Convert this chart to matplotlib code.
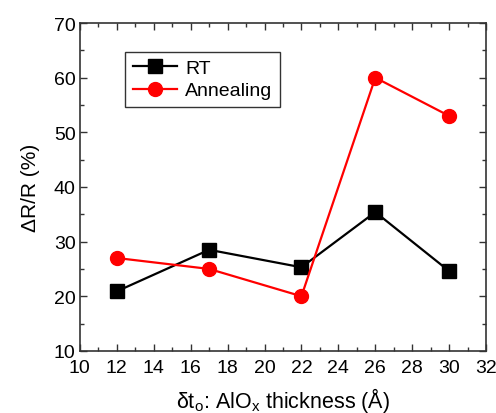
import matplotlib
matplotlib.use('Agg')
import matplotlib.pyplot as plt
from matplotlib.ticker import MultipleLocator

plt.rcParams['font.family'] = ['Liberation Sans', 'DejaVu Sans']
plt.rcParams['mathtext.fontset'] = 'custom'
plt.rcParams['mathtext.rm'] = 'Liberation Sans'
plt.rcParams['mathtext.it'] = 'Liberation Sans'

thickness = [12, 17, 22, 26, 30]
rt_values = [20.9, 28.5, 25.3, 35.4, 24.6]
annealing_values = [27.0, 25.0, 20.0, 60.0, 53.0]

fig = plt.figure(figsize=(4.96, 4.14), dpi=100)
ax = fig.add_axes([0.161, 0.150, 0.819, 0.792])

ax.plot(thickness, rt_values, color='black', marker='s', markersize=9.5,
        linewidth=1.6, label='RT')
ax.plot(thickness, annealing_values, color='red', marker='o', markersize=10,
        linewidth=1.6, label='Annealing')

ax.set_xlim(10, 32)
ax.set_ylim(10, 70)
ax.xaxis.set_major_locator(MultipleLocator(2))
ax.xaxis.set_minor_locator(MultipleLocator(1))
ax.yaxis.set_major_locator(MultipleLocator(10))
ax.yaxis.set_minor_locator(MultipleLocator(5))
ax.tick_params(which='both', direction='in', top=True, right=True,
               labelsize=14, color='#333333')
ax.tick_params(which='major', length=5, width=1)
ax.tick_params(which='minor', length=3, width=1)
ax.tick_params(axis='x', pad=6)
ax.tick_params(axis='y', pad=3)
for spine in ax.spines.values():
    spine.set_linewidth(1.2)
    spine.set_color('#333333')

ax.set_xlabel(r'$\delta$t$_{\rm o}$: AlO$_{\rm x}$ thickness (Å)', fontsize=15.5,
              labelpad=6)
ax.set_ylabel('ΔR/R (%)', fontsize=15, labelpad=10)

leg = ax.legend(loc='upper left', bbox_to_anchor=(0.111, 0.913), fontsize=14,
                fancybox=False, framealpha=1, edgecolor='#333333',
                handlelength=2.3, borderpad=0.4, labelspacing=0.25,
                handletextpad=0.4, borderaxespad=0)
leg.get_frame().set_linewidth(1)

fig.savefig('out.png', dpi=100)
